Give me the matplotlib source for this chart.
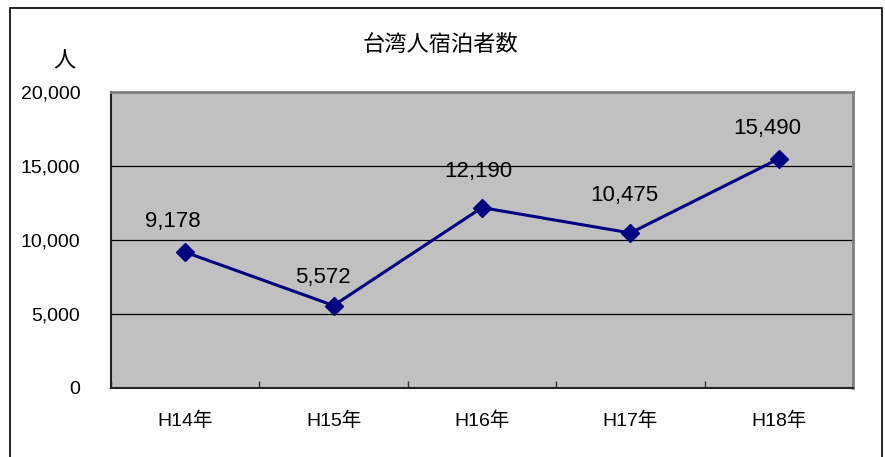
import matplotlib.pyplot as plt
from matplotlib.patches import Rectangle
from matplotlib.ticker import FuncFormatter, FixedLocator

plt.rcParams['font.family'] = ['Liberation Sans', 'Noto Sans CJK JP']

# Data
years = ["H14年", "H15年", "H16年", "H17年", "H18年"]
guests = [9178, 5572, 12190, 10475, 15490]
# label offsets in pixels (dx, dy) as placed in the original chart
label_offsets = [(-12, 31), (-11, 28), (-4, 36), (-6, 37), (-12, 30)]

fig = plt.figure(figsize=(8.85, 4.57), dpi=100)

# Outer chart frame
fig.patches.append(Rectangle((10 / 885, -0.05), 872 / 885, 1.05 - 8 / 457,
                             transform=fig.transFigure, fill=False,
                             edgecolor="black", linewidth=1.2))

ax = fig.add_axes([111 / 885, 1 - 388 / 457, 742 / 885, 296 / 457])
ax.set_facecolor("#C0C0C0")

x = list(range(len(years)))
ax.plot(x, guests, color="#000080", linewidth=2.2, marker="D",
        markersize=9.5, markerfacecolor="#000080", markeredgecolor="#000080", zorder=3)

for xi, v, (dx, dy) in zip(x, guests, label_offsets):
    ax.annotate(f"{v:,}", (xi, v), xytext=(dx, dy), textcoords="offset pixels",
                ha="center", va="center", fontsize=16)

ax.set_xlim(-0.5, len(years) - 0.5)
ax.set_ylim(0, 20000)

# Y axis
ax.set_yticks(range(0, 20001, 5000))
ax.yaxis.set_major_formatter(FuncFormatter(lambda v, p: f"{int(v):,}"))
ax.tick_params(axis="y", length=0, pad=22, labelsize=14)
ax.grid(axis="y", color="black", linewidth=0.9)
ax.set_axisbelow(True)

# X axis: category labels with ticks between categories
ax.set_xticks(x)
ax.set_xticklabels(years)
ax.tick_params(axis="x", which="major", length=0, pad=17, labelsize=14)
ax.xaxis.set_minor_locator(FixedLocator([i - 0.5 for i in range(len(years) + 1)]))
ax.tick_params(axis="x", which="minor", direction="in", length=5, width=1, color="#333333")

for side in ["top", "right"]:
    ax.spines[side].set_color("#808080")
    ax.spines[side].set_linewidth(2)
for side in ["left", "bottom"]:
    ax.spines[side].set_color("#222222")
    ax.spines[side].set_linewidth(1.5)

fig.text(440 / 885, 1 - 45 / 457, "台湾人宿泊者数", ha="center", va="center", fontsize=16)
fig.text(64 / 885, 1 - 62 / 457, "人", ha="center", va="center", fontsize=16)

fig.savefig("out.png", dpi=100)
